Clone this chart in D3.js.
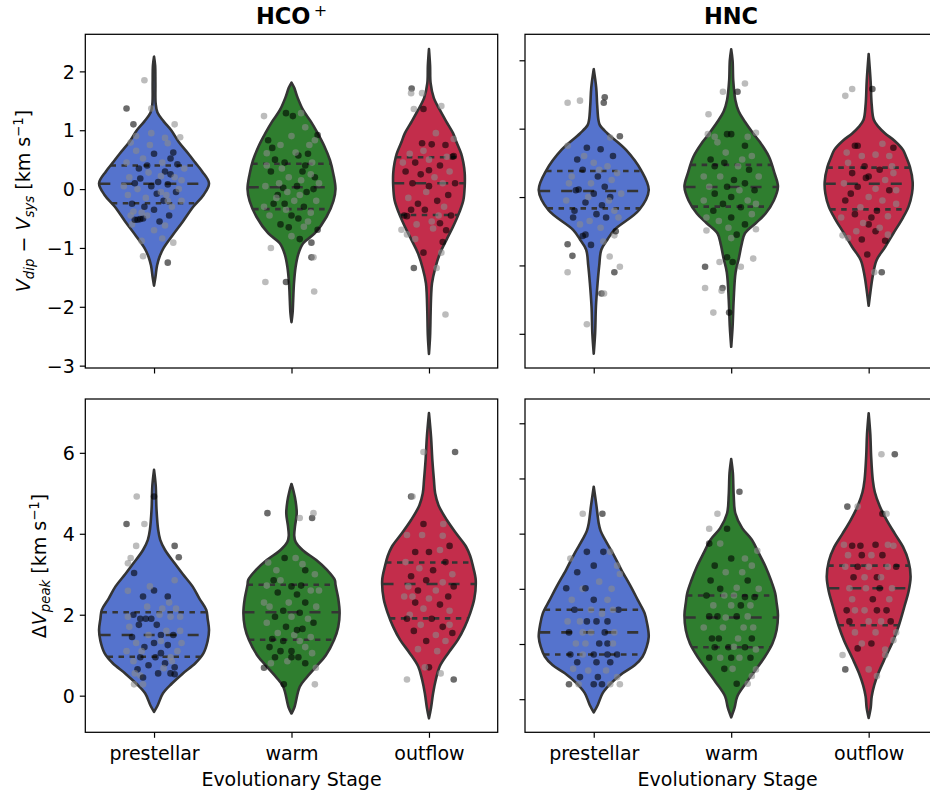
<!DOCTYPE html>
<html>
<head>
    <meta charset="UTF-8">
    <title></title>
    <style>
        body { margin: 0; background: #fff; }
        text { font-family: "DejaVu Sans", sans-serif; }
    </style>
</head>
<body>
<script src="https://cdn.jsdelivr.net/npm/d3@7/dist/d3.min.js"></script>
<script>

    var width = 930;
    var height = 798;

    // categories
    var stages = ["prestellar", "warm", "outflow"];

    // tick values per panel
    var ticksDvHco = [-3, -2, -1, 0, 1, 2];
    var ticksDvHnc = [-2, -1, 0, 1, 2];
    var ticksDpHco = [0, 2, 4, 6];
    var ticksDpHnc = [0, 1, 2, 3, 4, 5];

    // violin outlines: [value, half width (category units)]
    var shapeDvHco = [
        [[-1.64,0],[-1.5,0.01],[-1.3,0.022],[-1.15,0.04],[-1.0,0.07],[-0.8,0.13],[-0.55,0.21],[-0.3,0.285],[-0.1,0.36],[0.1,0.40],[0.3,0.35],[0.45,0.30],[0.6,0.25],[0.8,0.18],[1.0,0.125],[1.15,0.07],[1.3,0.025],[1.45,0.012],[1.8,0.01],[2.1,0.008],[2.25,0]],
        [[-2.26,0],[-2.1,0.008],[-1.9,0.012],[-1.6,0.018],[-1.32,0.03],[-1.1,0.05],[-0.92,0.085],[-0.75,0.17],[-0.47,0.255],[-0.2,0.305],[0.0,0.32],[0.25,0.305],[0.49,0.28],[0.75,0.235],[0.95,0.19],[1.15,0.14],[1.34,0.085],[1.55,0.045],[1.72,0.02],[1.81,0]],
        [[-2.8,0],[-2.5,0.008],[-2.1,0.012],[-1.8,0.016],[-1.6,0.022],[-1.35,0.045],[-1.09,0.08],[-0.85,0.13],[-0.64,0.175],[-0.4,0.22],[-0.19,0.25],[0.05,0.26],[0.27,0.26],[0.45,0.25],[0.6,0.235],[0.8,0.2],[0.95,0.175],[1.15,0.125],[1.34,0.08],[1.55,0.035],[1.8,0.012],[2.1,0.008],[2.38,0]]
    ];
    var shapeDvHnc = [
        [[-2.29,0],[-2.0,0.01],[-1.6,0.016],[-1.26,0.028],[-1.0,0.04],[-0.77,0.055],[-0.62,0.1],[-0.48,0.15],[-0.19,0.33],[0.1,0.40],[0.39,0.345],[0.69,0.235],[0.93,0.1],[1.05,0.045],[1.13,0.034],[1.35,0.025],[1.6,0.018],[1.87,0]],
        [[-2.19,0],[-1.9,0.01],[-1.5,0.018],[-1.1,0.032],[-0.89,0.056],[-0.7,0.075],[-0.53,0.1],[-0.38,0.18],[-0.24,0.25],[-0.05,0.31],[0.15,0.34],[0.35,0.315],[0.59,0.275],[0.8,0.21],[0.93,0.16],[1.1,0.1],[1.25,0.055],[1.42,0.03],[1.7,0.015],[2.0,0.01],[2.16,0]],
        [[-1.59,0],[-1.4,0.012],[-1.15,0.03],[-0.92,0.058],[-0.73,0.12],[-0.53,0.18],[-0.3,0.25],[-0.14,0.29],[0.05,0.315],[0.22,0.32],[0.44,0.30],[0.6,0.27],[0.69,0.25],[0.82,0.19],[0.93,0.12],[1.03,0.07],[1.13,0.037],[1.35,0.022],[1.7,0.014],[2.09,0]]
    ];
    var shapeDpHco = [
        [[-0.4,0],[-0.25,0.025],[0.06,0.065],[0.3,0.13],[0.55,0.21],[0.8,0.3],[1.05,0.36],[1.35,0.39],[1.62,0.40],[1.9,0.39],[2.12,0.38],[2.4,0.33],[2.7,0.28],[3.0,0.21],[3.27,0.15],[3.6,0.08],[3.85,0.045],[4.1,0.03],[4.6,0.018],[5.2,0.012],[5.58,0]],
        [[-0.44,0],[-0.3,0.02],[0.22,0.06],[0.45,0.11],[0.72,0.18],[1.0,0.25],[1.38,0.31],[1.7,0.34],[2.04,0.35],[2.4,0.34],[2.74,0.32],[2.86,0.315],[3.1,0.26],[3.35,0.18],[3.6,0.08],[3.8,0.03],[3.95,0.02],[4.2,0.026],[4.5,0.038],[4.8,0.03],[5.05,0.015],[5.23,0]],
        [[-0.56,0],[-0.3,0.015],[0.06,0.03],[0.4,0.05],[0.72,0.078],[1.05,0.14],[1.38,0.21],[1.7,0.26],[2.04,0.30],[2.4,0.33],[2.86,0.34],[3.2,0.32],[3.45,0.30],[3.68,0.27],[4.0,0.2],[4.34,0.13],[4.7,0.07],[5.0,0.045],[5.33,0.036],[5.8,0.025],[6.4,0.015],[6.98,0]]
    ];
    var shapeDpHnc = [
        [[-0.24,0],[-0.1,0.03],[0.11,0.065],[0.3,0.13],[0.47,0.21],[0.62,0.3],[0.77,0.355],[0.95,0.385],[1.13,0.40],[1.35,0.39],[1.56,0.37],[1.8,0.32],[2.04,0.27],[2.35,0.2],[2.64,0.14],[2.9,0.08],[3.05,0.05],[3.19,0.036],[3.5,0.02],[3.85,0]],
        [[-0.33,0],[-0.15,0.025],[0.05,0.044],[0.3,0.11],[0.53,0.177],[0.75,0.24],[1.01,0.3],[1.25,0.33],[1.53,0.34],[1.75,0.33],[1.92,0.32],[2.15,0.29],[2.4,0.25],[2.65,0.2],[2.89,0.15],[3.1,0.08],[3.37,0.03],[3.7,0.018],[4.1,0.012],[4.35,0]],
        [[-0.34,0],[-0.15,0.015],[0.05,0.022],[0.25,0.04],[0.47,0.07],[0.75,0.12],[1.07,0.18],[1.34,0.22],[1.68,0.26],[1.95,0.29],[2.22,0.305],[2.5,0.29],[2.76,0.25],[3.0,0.19],[3.25,0.13],[3.5,0.08],[3.75,0.045],[3.97,0.03],[4.4,0.018],[4.8,0.012],[5.18,0]]
    ];

    // quartiles [q1, median, q3]
    var quartDvHco = [[-0.24, 0.09, 0.40], [-0.34, 0.03, 0.43], [-0.44, 0.10, 0.54]];
    var quartDvHnc = [[-0.165, 0.088, 0.38], [-0.14, 0.146, 0.47], [-0.18, 0.195, 0.43]];
    var quartDpHco = [[0.96, 1.5, 2.06], [1.38, 2.06, 2.74], [1.91, 2.76, 3.29]];
    var quartDpHnc = [[0.81, 1.21, 1.62], [0.94, 1.48, 1.88], [1.34, 2.01, 2.42]];

    // strip points: [jitter, value, group]
    var ptsDvHcoPre = [[-0.07,1.85,0],[-0.2,1.37,1],[-0.02,1.37,0],[-0.15,1.1,1],[0.15,1.1,0],[-0.13,0.9,0],[0.19,0.88,0],[-0.17,0.79,0],[0.08,0.87,0],[-0.09,-0.88,0],[-0.08,-1.14,0],[0.14,-0.91,0],[0.1,-1.25,1],[0.06,-0.84,0],[-0.16,-0.6,0],[-0.14,-0.52,1],[-0.12,-0.52,1],[-0.1,-0.51,1],[-0.08,-0.5,1],
        [0.12,0.52,1],[0.0,0.6,1],[-0.05,0.4,1],[0.08,0.3,1],[-0.18,0.2,0],[0.2,0.15,0],[-0.1,0.18,1],[0.05,0.22,0],[-0.02,0.05,1],[0.1,0.08,1],[-0.12,0.0,0],[0.16,-0.05,1],[0.02,-0.08,1],[-0.06,-0.15,0],[0.07,-0.2,1],[-0.16,-0.25,1],[0.13,-0.3,0],[0.0,-0.35,1],[-0.09,-0.4,0],[0.11,-0.45,1],[0.04,-0.55,1],[-0.2,0.45,0],[0.22,0.35,0],[-0.03,0.75,0],[0.14,0.62,1],[-0.13,0.65,0],[0.06,0.45,0],[-0.11,0.35,1],[0.18,0.0,0],[-0.22,0.05,0],[0.09,-0.1,0],[-0.04,0.28,0],[0.2,-0.2,0],[-0.19,-0.1,0],[0.03,0.12,1],[-0.07,-0.3,1],[0.12,0.25,1],[0.17,0.42,1],[-0.15,-0.38,0],[0.0,-0.7,0],[0.08,-0.62,0],[-0.02,0.95,0],[0.1,0.78,0],[-0.08,0.52,0],
        [-0.14,0.1,1],[0.05,-0.05,0],[-0.05,-0.45,0],[0.15,0.2,0],[-0.17,-0.45,0],[0.1,-0.2,0]];
    var ptsDvHcoWarm = [[-0.2,1.24,0],[-0.04,1.29,1],[0.01,1.24,1],[0.07,1.29,0],[0.19,0.92,1],[0.17,0.83,0],[-0.17,0.83,1],[-0.18,0.61,0],[0.19,-0.69,1],[0.145,-0.91,1],[0.145,-1.16,1],[0.16,-1.16,0],[-0.15,-1.0,0],[-0.19,-1.58,0],[-0.04,-1.58,1],[0.165,-1.74,0],[0.09,-0.64,0],[0.0,-0.8,0],
        [-0.12,0.5,1],[0.05,0.57,1],[0.12,0.6,1],[-0.05,0.45,1],[0.0,0.9,0],[0.1,1.05,0],[-0.08,0.75,0],[0.15,0.45,0],[-0.15,0.3,1],[0.08,0.3,1],[-0.02,0.2,0],[0.2,0.1,0],[-0.19,0.05,0],[-0.06,0.02,1],[0.04,0.05,1],[0.11,-0.05,1],[-0.1,-0.1,1],[0.17,0.2,1],[-0.13,-0.25,1],[0.02,-0.2,0],[0.09,-0.3,1],[-0.04,-0.35,0],[0.14,-0.4,0],[-0.16,-0.45,0],[0.05,-0.5,1],[-0.08,-0.6,1],[-0.02,-0.65,1],[0.12,-0.55,0],[-0.11,-0.15,0],[0.07,0.15,0],[-0.18,0.4,0],[0.18,-0.2,0],[0.0,-0.45,1],[-0.14,0.7,1],[0.13,0.75,0],[0.06,-0.85,1],[-0.07,0.35,0],[0.1,0.4,1],[-0.03,-0.05,0],[0.16,0.0,1],[-0.2,-0.3,0],[0.03,0.62,0],
        [-0.09,0.1,0],[0.14,0.25,0],[-0.05,-0.25,1],[0.06,-0.1,0]];
    var ptsDvHcoOut = [[-0.126,1.71,1],[-0.13,1.63,0],[-0.05,1.63,0],[-0.11,1.36,0],[-0.04,1.36,1],[0.09,1.41,0],[0.18,0.85,0],[-0.2,-0.69,0],[-0.16,-0.77,0],[-0.18,-0.45,1],[-0.16,-0.46,1],[-0.11,-1.34,1],[0.056,-1.34,0],[0.09,-1.08,0],[-0.04,-1.08,1],[0.12,-2.13,0],[0.125,-0.7,1],[0.03,-0.67,0],[0.18,0.56,1],[0.17,0.55,1],
        [-0.05,0.78,1],[0.02,0.76,1],[0.12,0.75,1],[-0.14,0.6,0],[-0.1,0.45,1],[0.0,0.5,0],[0.08,0.4,1],[0.15,0.3,0],[-0.17,0.3,1],[-0.06,0.25,1],[0.04,0.2,0],[-0.12,0.1,1],[0.1,0.1,0],[0.0,0.05,1],[-0.02,-0.05,0],[0.14,-0.1,1],[-0.15,-0.15,0],[0.06,-0.2,1],[-0.08,-0.25,1],[0.11,-0.3,0],[-0.03,-0.35,1],[0.16,-0.45,1],[0.02,-0.55,0],[-0.09,-0.6,0],[0.08,-0.58,1],[-0.19,0.45,0],[0.19,0.1,1],[-0.04,0.65,0],[0.07,-0.45,0],[-0.13,-0.35,1],[0.13,0.55,0],[0.05,0.95,0],[-0.1,-0.85,0],[0.1,-0.9,1],[0.0,0.32,1]];

    var ptsDvHncPre = [[-0.19,1.38,0],[-0.1,1.41,0],[0.08,1.46,1],[0.073,1.38,1],[0.12,0.87,0],[0.19,0.89,1],[-0.19,0.75,0],[-0.19,-0.69,1],[-0.155,-0.86,1],[-0.19,-1.1,0],[0.15,-1.1,1],[0.19,-1.02,0],[0.116,-0.87,0],[0.056,-1.41,1],[0.075,-1.41,0],[-0.05,-1.86,0],[0.15,-0.56,0],[0.16,-0.5,1],[-0.08,-0.57,1],[-0.06,-0.55,1],
        [-0.05,0.72,1],[0.05,0.7,1],[0.14,0.6,1],[-0.12,0.55,1],[0.0,0.5,0],[0.1,0.45,0],[-0.08,0.4,1],[0.17,0.35,0],[-0.16,0.3,0],[0.03,0.3,1],[-0.02,0.2,0],[0.08,0.15,1],[-0.13,0.1,1],[-0.11,0.11,1],[0.2,0.05,0],[0.0,0.05,1],[0.12,0.0,1],[-0.2,-0.05,0],[-0.06,-0.08,1],[0.06,-0.12,1],[0.15,-0.2,0],[-0.14,-0.2,1],[0.02,-0.25,1],[-0.03,-0.35,0],[0.09,-0.3,1],[-0.1,-0.4,0],[0.05,-0.45,0],[0.11,-0.05,0],[-0.18,0.2,0],[-0.07,0.6,0],[0.13,0.25,0],[0.07,-0.65,0],[-0.02,-0.7,1],[0.18,-0.3,0],[-0.04,0.0,0],[0.04,0.4,0],[-0.15,-0.3,1]];
    var ptsDvHncWarm = [[-0.06,1.54,0],[0.046,1.54,1],[0.1,1.66,0],[-0.165,1.21,0],[-0.17,0.92,0],[0.18,0.94,0],[-0.03,0.92,1],[0.0,0.92,1],[-0.12,0.88,0],[-0.18,-0.49,0],[0.18,-0.47,0],[-0.19,-1.02,1],[-0.085,-0.95,0],[0.07,-1.02,0],[0.16,-0.9,0],[-0.19,-1.33,0],[-0.063,-1.33,1],[-0.07,-1.37,0],[-0.13,-1.69,0],[-0.015,-1.69,1],[-0.03,-0.88,1],[0.01,-0.95,1],[0.0,-0.6,0],
        [-0.1,0.8,0],[0.1,0.75,1],[0.15,0.6,0],[-0.15,0.55,1],[-0.05,0.5,1],[0.05,0.45,0],[-0.12,0.45,1],[0.13,0.4,1],[0.2,0.3,0],[-0.2,0.3,0],[-0.08,0.3,0],[0.02,0.25,1],[0.1,0.2,1],[-0.16,0.15,0],[-0.03,0.15,1],[0.17,0.1,1],[0.06,0.1,0],[-0.12,0.05,1],[0.0,0.0,1],[-0.2,-0.05,0],[0.12,-0.05,0],[-0.06,-0.1,1],[0.07,-0.15,1],[-0.13,-0.2,1],[0.15,-0.25,0],[0.0,-0.3,1],[-0.09,-0.35,0],[0.1,-0.4,1],[-0.02,-0.45,0],[0.04,-0.55,1],[0.08,0.55,0],[-0.18,-0.3,0],[0.18,-0.1,0],[-0.04,0.65,0],[0.12,0.88,0]];
    var ptsDvHncOut = [[-0.17,1.48,0],[-0.12,1.58,0],[0.027,1.58,1],[-0.1,0.75,1],[-0.08,0.75,1],[0.1,0.78,0],[0.18,0.72,1],[-0.19,-0.56,0],[-0.15,-0.6,0],[-0.05,-0.62,1],[0.12,-0.64,1],[-0.01,-0.84,1],[0.04,-1.1,0],[0.095,-1.1,1],[0.0,-0.4,1],[0.05,-0.5,1],[0.14,-0.55,0],
        [-0.05,0.6,0],[0.05,0.62,0],[0.15,0.6,0],[-0.15,0.5,0],[-0.03,0.45,1],[0.08,0.4,1],[-0.12,0.35,1],[0.18,0.35,0],[0.0,0.3,1],[-0.02,0.28,1],[0.12,0.25,0],[-0.18,0.2,0],[-0.08,0.15,1],[0.05,0.12,0],[0.15,0.1,1],[-0.13,0.05,1],[0.0,0.0,0],[0.1,-0.05,0],[-0.17,-0.05,1],[0.2,-0.1,0],[-0.06,-0.15,0],[0.06,-0.2,1],[-0.1,-0.25,1],[0.14,-0.28,0],[-0.2,-0.3,0],[0.02,-0.3,1],[-0.04,-0.38,0],[0.17,0.45,0],[-0.16,0.65,0],[0.08,-0.45,0],[0.2,0.1,0],[-0.09,-0.5,0]];

    var ptsDpHcoPre = [[-0.126,4.92,0],[0.0,4.92,1],[-0.2,4.24,1],[-0.07,4.24,0],[-0.13,3.7,0],[0.15,3.7,1],[-0.17,3.4,0],[-0.19,3.27,0],[0.18,3.42,1],[-0.145,3.03,1],[0.15,2.85,0],[-0.19,2.59,0],[-0.145,0.28,0],[-0.08,0.28,0],[0.15,0.53,1],[0.12,0.55,1],[-0.1,0.5,0],
        [-0.08,2.45,1],[0.0,2.6,1],[0.1,2.45,1],[-0.05,2.2,0],[0.06,2.15,0],[0.16,2.15,0],[-0.15,2.0,1],[-0.1,1.9,1],[-0.06,1.9,1],[-0.02,1.9,1],[0.04,2.0,0],[0.12,1.95,0],[0.19,1.6,0],[-0.18,1.7,0],[-0.11,1.75,1],[0.02,1.75,1],[0.09,1.6,0],[-0.04,1.5,0],[0.05,1.5,1],[0.14,1.5,1],[-0.16,1.45,1],[-0.13,1.3,0],[0.0,1.3,1],[0.1,1.25,1],[-0.07,1.2,1],[0.17,1.1,0],[-0.2,1.1,0],[0.05,1.05,1],[-0.1,0.95,1],[0.01,0.95,1],[0.12,0.95,0],[-0.15,0.85,0],[0.08,0.8,1],[-0.04,0.75,1],[0.15,0.7,1],[-0.12,0.65,1],[0.03,0.55,1],[-0.08,0.45,1],[0.07,0.68,0],[-0.19,1.95,0],[0.19,1.95,0],[0.11,2.3,0],[-0.03,2.7,0],[0.05,1.35,0],[-0.09,1.1,0],[0.13,0.85,0],[-0.14,0.55,0],[0.2,1.3,0]];
    var ptsDpHcoWarm = [[-0.175,4.51,1],[0.06,4.39,0],[0.15,4.39,1],[0.16,4.51,0],[-0.17,3.29,0],[-0.2,0.69,1],[0.177,0.69,0],[0.17,0.28,0],[-0.056,0.28,1],
        [-0.05,3.4,1],[0.03,3.4,0],[0.1,3.1,1],[0.17,3.0,0],[-0.13,2.85,1],[-0.08,2.85,0],[0.0,2.7,1],[0.07,2.72,1],[-0.18,2.72,0],[0.14,2.6,0],[-0.1,2.55,1],[0.04,2.5,1],[-0.02,2.3,0],[0.1,2.3,1],[-0.16,2.2,0],[0.18,2.2,0],[-0.06,2.1,1],[0.06,2.05,1],[-0.12,1.95,1],[0.12,1.9,0],[0.0,1.95,0],[0.16,1.8,1],[-0.18,1.8,0],[-0.04,1.7,1],[0.08,1.65,1],[-0.1,1.55,0],[0.02,1.5,0],[0.14,1.45,0],[-0.14,1.4,1],[-0.06,1.35,1],[0.06,1.35,0],[0.1,1.2,0],[-0.16,1.2,1],[0.0,1.1,1],[-0.08,1.1,1],[0.15,1.05,0],[-0.12,0.95,1],[0.05,0.95,1],[-0.03,0.85,0],[0.1,0.8,1],[-0.15,0.8,0],[0.2,2.6,0],[-0.2,2.3,0],[0.08,3.25,0],[-0.11,3.1,0],[0.0,0.95,1],[0.04,1.62,1]];
    var ptsDpHcoOut = [[-0.04,6.02,0],[0.19,6.02,1],[-0.13,4.92,1],[-0.12,4.92,0],[0.104,4.24,0],[-0.04,4.24,1],[-0.16,3.97,0],[-0.16,0.4,0],[0.18,0.4,1],[0.085,0.55,0],[0.0,0.7,1],[-0.03,0.7,0],
        [-0.05,3.97,0],[0.15,3.7,1],[0.08,3.6,0],[-0.1,3.55,1],[0.0,3.55,1],[-0.17,3.3,0],[0.12,3.3,1],[-0.07,3.15,0],[0.03,3.1,1],[0.17,3.0,0],[-0.13,2.95,1],[-0.02,2.85,1],[0.1,2.8,0],[0.18,2.7,1],[-0.15,2.7,0],[-0.08,2.6,1],[0.05,2.6,0],[-0.18,2.45,0],[0.14,2.45,1],[0.0,2.4,0],[-0.1,2.3,1],[0.08,2.25,1],[-0.04,2.15,0],[0.15,2.1,0],[-0.14,2.0,0],[0.02,1.9,1],[-0.06,1.75,0],[0.1,1.7,1],[-0.11,1.6,1],[0.17,1.55,1],[0.05,1.5,0],[-0.02,1.35,1],[0.12,1.35,0],[-0.16,1.9,1],[0.06,1.1,0],[-0.08,1.15,0],[0.15,1.75,0],[-0.12,2.45,0],[0.1,3.95,0]];

    var ptsDpHncPre = [[-0.08,3.36,0],[0.063,3.36,1],[-0.17,2.55,0],[0.07,2.67,1],[0.12,2.67,0],[0.17,2.42,0],[0.19,2.27,0],[-0.2,2.01,1],[-0.18,0.27,1],[-0.11,0.27,0],[0.0,0.27,1],[0.06,0.27,1],[0.12,0.27,0],[0.19,0.27,0],[0.17,0.4,0],
        [-0.05,2.67,1],[0.0,2.42,1],[-0.12,2.3,1],[0.04,2.13,0],[-0.08,2.0,0],[-0.06,2.01,1],[0.13,2.0,0],[0.0,1.8,1],[-0.16,1.8,0],[0.1,1.8,0],[-0.02,1.62,0],[0.18,1.62,1],[-0.14,1.62,1],[0.06,1.55,0],[-0.1,1.41,0],[-0.05,1.41,1],[0.02,1.41,1],[0.1,1.41,1],[0.15,1.21,0],[-0.18,1.21,1],[-0.08,1.21,0],[-0.02,1.21,0],[0.08,1.21,1],[-0.13,1.01,0],[0.04,1.01,1],[0.1,1.01,1],[0.14,1.01,0],[-0.06,1.01,0],[-0.17,0.81,1],[0.0,0.81,1],[-0.08,0.81,0],[0.1,0.81,1],[0.17,0.81,1],[-0.12,0.67,1],[0.02,0.67,1],[0.12,0.67,1],[-0.04,0.52,0],[0.09,0.52,0],[-0.1,0.4,1],[0.03,0.4,1],[-0.15,0.55,0],[0.14,1.62,0],[-0.19,1.41,0]];
    var ptsDpHncWarm = [[-0.1,3.36,0],[0.06,3.76,1],[-0.16,3.09,0],[-0.16,2.82,1],[0.19,2.69,0],[-0.03,3.09,1],[0.04,0.28,1],[0.12,0.28,0],[0.15,0.42,0],[0.18,0.54,0],[-0.05,0.55,1],[0.01,0.55,0],
        [-0.08,2.82,0],[0.1,2.55,0],[0.0,2.55,1],[-0.12,2.42,1],[0.15,2.42,0],[-0.04,2.3,0],[0.08,2.3,0],[0.12,2.15,1],[-0.15,2.15,1],[-0.08,2.0,1],[0.04,2.02,0],[0.2,2.0,0],[-0.18,1.88,1],[-0.05,1.88,0],[0.02,1.88,0],[0.1,1.85,1],[0.17,1.85,1],[-0.13,1.7,0],[0.0,1.7,0],[0.07,1.7,1],[0.14,1.7,0],[-0.16,1.5,1],[-0.1,1.5,1],[0.04,1.5,1],[0.12,1.5,0],[-0.04,1.48,0],[-0.2,1.3,0],[-0.06,1.3,0],[0.09,1.3,0],[0.16,1.3,0],[-0.14,1.1,1],[-0.09,1.1,1],[0.05,1.1,0],[0.15,1.1,1],[-0.12,0.94,1],[-0.02,0.94,1],[0.02,0.95,0],[0.1,0.94,1],[0.18,0.9,0],[-0.16,0.75,1],[0.0,0.75,1],[0.06,0.75,0],[-0.08,0.75,0],[0.14,0.75,1]];
    var ptsDpHncOut = [[0.093,4.44,0],[0.19,4.44,1],[-0.155,3.49,1],[-0.08,3.49,0],[0.1,3.36,1],[0.13,3.36,0],[-0.19,0.8,0],[-0.17,0.54,1],[0.0,0.54,0],[0.06,0.42,0],[-0.08,0.92,1],[0.12,0.8,0],[0.18,1.07,0],
        [-0.18,2.8,0],[-0.12,2.78,1],[0.05,2.8,1],[0.14,2.8,0],[0.18,2.78,0],[-0.06,2.78,1],[-0.15,2.61,0],[-0.05,2.61,1],[0.02,2.61,0],[0.1,2.61,1],[-0.17,2.4,0],[-0.08,2.4,1],[0.0,2.4,0],[0.14,2.4,0],[0.2,2.4,1],[-0.11,2.21,1],[-0.03,2.21,0],[0.06,2.21,1],[0.09,2.21,0],[-0.14,2.01,0],[-0.02,2.01,0],[0.08,2.01,1],[0.17,2.01,0],[-0.12,1.81,0],[0.03,1.81,1],[0.15,1.81,0],[-0.16,1.61,1],[-0.1,1.61,0],[0.06,1.61,1],[0.13,1.61,1],[-0.03,1.61,0],[-0.14,1.41,1],[0.0,1.41,0],[0.09,1.41,0],[0.16,1.41,1],[-0.1,1.21,0],[0.05,1.21,0],[-0.05,1.01,0],[0.02,1.01,1],[0.2,1.21,0],[0.12,0.9,0]];

    // look
    var fills = ["#5573cd", "#2f7e2f", "#c32d4b"];
    var gray = "#343434";
    var lw = 2.6;

    var svg = d3.select("body").append("svg")
        .attr("width", width)
        .attr("height", height);

    var panels = [
        {x0: 85.3, x1: 497.7, y0: 34.3, y1: 368, dom: [-3.04, 2.63], ticks: ticksDvHco, yLabels: true, xLabels: false,
         shapes: shapeDvHco, quart: quartDvHco, pts: [ptsDvHcoPre, ptsDvHcoWarm, ptsDvHcoOut]},
        {x0: 525, x1: 937.4, y0: 34.3, y1: 368, dom: [-2.5, 2.38], ticks: ticksDvHnc, yLabels: false, xLabels: false,
         shapes: shapeDvHnc, quart: quartDvHnc, pts: [ptsDvHncPre, ptsDvHncWarm, ptsDvHncOut]},
        {x0: 85.3, x1: 497.7, y0: 399, y1: 732.3, dom: [-0.905, 7.33], ticks: ticksDpHco, yLabels: true, xLabels: true,
         shapes: shapeDpHco, quart: quartDpHco, pts: [ptsDpHcoPre, ptsDpHcoWarm, ptsDpHcoOut]},
        {x0: 525, x1: 937.4, y0: 399, y1: 732.3, dom: [-0.6, 5.44], ticks: ticksDpHnc, yLabels: false, xLabels: true,
         shapes: shapeDpHnc, quart: quartDpHnc, pts: [ptsDpHncPre, ptsDpHncWarm, ptsDpHncOut]}
    ];

    panels.forEach(function (p) {
        var x = d3.scalePoint().domain(stages).range([p.x0, p.x1]).padding(0.5);
        var y = d3.scaleLinear().domain(p.dom).range([p.y1, p.y0]);
        var step = x.step();
        var g = svg.append("g");

        stages.forEach(function (s, i) {
            var cx = x(s);
            var shape = p.shapes[i];
            var area = d3.area()
                .y(function (d) { return y(d[0]); })
                .x0(function (d) { return cx - d[1] * step; })
                .x1(function (d) { return cx + d[1] * step; })
                .curve(d3.curveCatmullRom.alpha(0.5));
            g.append("path")
                .attr("d", area(shape))
                .attr("fill", fills[i])
                .attr("stroke", gray)
                .attr("stroke-width", lw)
                .attr("stroke-linejoin", "round");

            // quartile lines reach the outline
            var hw = d3.scaleLinear().domain(shape.map(d => d[0])).range(shape.map(d => d[1]));
            p.quart[i].forEach(function (q, k) {
                var h = hw(q) * step;
                g.append("line")
                    .attr("x1", cx - h).attr("x2", cx + h)
                    .attr("y1", y(q)).attr("y2", y(q))
                    .attr("stroke", gray)
                    .attr("stroke-width", lw)
                    .attr("stroke-dasharray", k === 1 ? "11 11" : "5.5 5.5");
            });
        });

        // points on top
        stages.forEach(function (s, i) {
            var cx = x(s);
            g.append("g").selectAll("circle")
                .data(p.pts[i])
                .join("circle")
                .attr("cx", d => cx + d[0] * step)
                .attr("cy", d => y(d[1]))
                .attr("r", 3.3)
                .attr("fill", d => d[2] ? "#000" : "#8c8c8c")
                .attr("fill-opacity", 0.58);
        });

        // axes
        var yAxis = d3.axisLeft(y).tickValues(p.ticks).tickSize(5.5).tickPadding(5)
            .tickFormat(p.yLabels ? d3.format("d") : "");
        var ya = svg.append("g").attr("transform", "translate(" + p.x0 + ",0)").call(yAxis);
        var xAxis = d3.axisBottom(x).tickSize(5.5).tickPadding(5)
            .tickFormat(p.xLabels ? null : "");
        var xa = svg.append("g").attr("transform", "translate(0," + p.y1 + ")").call(xAxis);
        [ya, xa].forEach(function (a) {
            a.select(".domain").remove();
            a.selectAll(".tick line").attr("stroke", "#000").attr("stroke-width", 1.2);
            a.selectAll("text").attr("fill", "#000").style("font-size", "19px")
                .style("font-family", "'DejaVu Sans', sans-serif");
        });
        xa.selectAll("text").attr("y", 0).attr("dy", 0).attr("transform", "translate(0,28)");
        ya.selectAll("text").attr("dy", "0.35em");

        svg.append("rect")
            .attr("x", p.x0).attr("y", p.y0)
            .attr("width", p.x1 - p.x0).attr("height", p.y1 - p.y0)
            .attr("fill", "none").attr("stroke", "#000").attr("stroke-width", 1.25);

        if (p.xLabels) {
            svg.append("text")
                .attr("x", (p.x0 + p.x1) / 2 - (p.x0 > 100 ? 3.5 : 0))
                .attr("y", p.y1 + 54)
                .attr("text-anchor", "middle")
                .style("font-size", "19px")
                .text("Evolutionary Stage");
        }
    });

    // titles
    var t1 = svg.append("text").attr("x", 291.5).attr("y", 23.5).attr("text-anchor", "middle")
        .style("font-size", "22.5px").style("font-weight", "bold");
    t1.append("tspan").text("HCO");
    t1.append("tspan").attr("dy", -8).style("font-size", "16px").style("font-weight", "normal").text("\u2009+");
    svg.append("text").attr("x", 731).attr("y", 23.5).attr("text-anchor", "middle")
        .style("font-size", "22.5px").style("font-weight", "bold").text("HNC");

    // y labels
    var yl1 = svg.append("text").attr("text-anchor", "middle")
        .attr("transform", "translate(30,201) rotate(-90)").style("font-size", "19px");
    yl1.append("tspan").style("font-style", "italic").text("V");
    yl1.append("tspan").attr("dy", 4).style("font-style", "italic").style("font-size", "13.3px").text("dip");
    yl1.append("tspan").attr("dy", -4).text(" \u2212 ");
    yl1.append("tspan").style("font-style", "italic").text("V");
    yl1.append("tspan").attr("dy", 4).style("font-style", "italic").style("font-size", "13.3px").text("sys");
    yl1.append("tspan").attr("dy", -4).text(" [km s");
    yl1.append("tspan").attr("dy", -7).style("font-size", "13.3px").text("\u22121");
    yl1.append("tspan").attr("dy", 7).text("]");

    var yl2 = svg.append("text").attr("text-anchor", "middle")
        .attr("transform", "translate(46,566) rotate(-90)").style("font-size", "19px");
    yl2.append("tspan").text("\u0394");
    yl2.append("tspan").style("font-style", "italic").text("V");
    yl2.append("tspan").attr("dy", 4).style("font-style", "italic").style("font-size", "13.3px").text("peak");
    yl2.append("tspan").attr("dy", -4).text(" [km s");
    yl2.append("tspan").attr("dy", -7).style("font-size", "13.3px").text("\u22121");
    yl2.append("tspan").attr("dy", 7).text("]");

</script>
</body>
</html>
